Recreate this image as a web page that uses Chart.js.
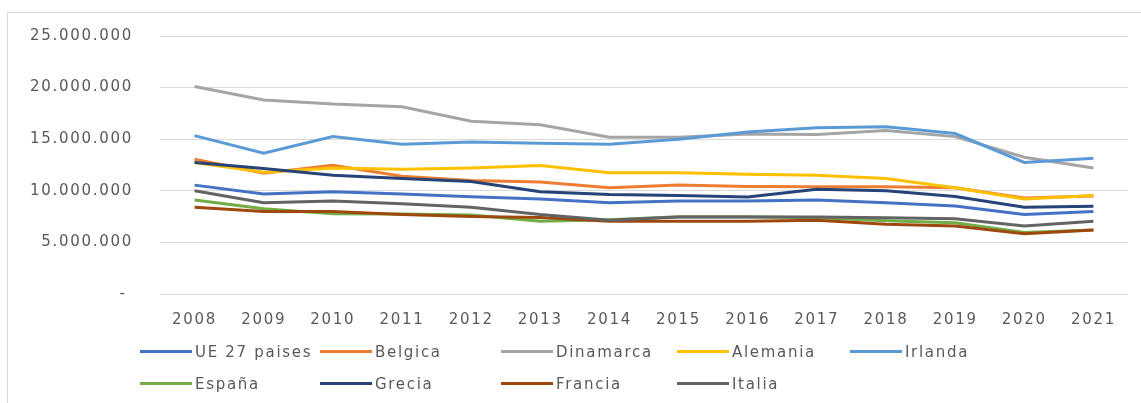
<!DOCTYPE html>
<html>
<head>
<meta charset="utf-8">
<script src="https://cdn.jsdelivr.net/npm/chart.js@4.4.1/dist/chart.umd.min.js"></script>
<style>
  html, body { margin: 0; padding: 0; background: #ffffff; }
  #wrap { position: relative; width: 1141px; height: 403px; overflow: hidden; }
  #frame { position: absolute; left: 7px; top: 12px; width: 1200px; height: 500px; border: 1px solid #d9d9d9; box-sizing: border-box; }
  canvas { position: absolute; left: 0; top: 0; }
  .lg { position: absolute; height: 20px; font-family: "DejaVu Sans", sans-serif; font-size: 15px; letter-spacing: 1.7px; color: #595959; white-space: nowrap; line-height: 20px; }
  .lg .sw { position: absolute; left: 0; top: 8px; width: 52px; height: 3px; }
  .lg .tx { position: absolute; left: 55px; top: 0; }
</style>
</head>
<body>
<div id="wrap">
  <div id="frame"></div>
  <canvas id="c" width="1141" height="403"></canvas>
  <div id="legend"></div>
</div>
<script>
const years = ['2008','2009','2010','2011','2012','2013','2014','2015','2016','2017','2018','2019','2020','2021'];
const yTicks = [0, 5000000, 10000000, 15000000, 20000000, 25000000];

const ue27      = [10550000, 9700000, 9900000, 9700000, 9420000, 9200000, 8850000, 9000000, 9000000, 9100000, 8850000, 8520000, 7700000, 8000000];
const belgica   = [13050000, 11700000, 12480000, 11400000, 11000000, 10850000, 10300000, 10550000, 10420000, 10400000, 10400000, 10300000, 9300000, 9500000];
const dinamarca = [20100000, 18800000, 18400000, 18150000, 16750000, 16400000, 15200000, 15200000, 15500000, 15450000, 15850000, 15250000, 13250000, 12200000];
const alemania  = [12750000, 11800000, 12200000, 12080000, 12200000, 12450000, 11750000, 11750000, 11600000, 11500000, 11200000, 10300000, 9200000, 9550000];
const irlanda   = [15350000, 13650000, 15250000, 14500000, 14720000, 14600000, 14500000, 15000000, 15700000, 16100000, 16200000, 15550000, 12750000, 13150000];
const espana    = [9100000, 8250000, 7780000, 7750000, 7650000, 7050000, 7200000, 7480000, 7480000, 7400000, 7100000, 6900000, 5950000, 6200000];
const grecia    = [12750000, 12150000, 11500000, 11200000, 10900000, 9900000, 9650000, 9550000, 9400000, 10150000, 10000000, 9450000, 8400000, 8500000];
const francia   = [8400000, 8000000, 8000000, 7700000, 7520000, 7420000, 7050000, 7050000, 7050000, 7150000, 6750000, 6600000, 5850000, 6200000];
const italia    = [10000000, 8850000, 9000000, 8750000, 8400000, 7700000, 7150000, 7450000, 7450000, 7450000, 7400000, 7300000, 6600000, 7050000];

const names  = ['UE 27 paises','Belgica','Dinamarca','Alemania','Irlanda','España','Grecia','Francia','Italia'];
const colors = ['#4472C4','#ED7D31','#A5A5A5','#FFC000','#5B9BD5','#70AD47','#264478','#9E480E','#636363'];
const series = [ue27, belgica, dinamarca, alemania, irlanda, espana, grecia, francia, italia];

// legend layout (left x of swatch, row center y)
const legendX = [140, 320, 501, 677, 850, 140, 320, 501, 677];
const legendY = [352, 352, 352, 352, 352, 384, 384, 384, 384];

function fmt(v) {
  if (v === 0) return '- ';
  return v.toString().replace(/\B(?=(\d{3})+(?!\d))/g, '.');
}

const spacingPlugin = {
  id: 'spacing',
  beforeDraw(chart) { chart.ctx.letterSpacing = '1.7px'; }
};

const ctx = document.getElementById('c').getContext('2d');
new Chart(ctx, {
  type: 'line',
  data: {
    labels: years,
    datasets: series.map((d, i) => ({
      label: names[i],
      data: d,
      borderColor: colors[i],
      backgroundColor: colors[i],
      borderWidth: 3,
      pointRadius: 0,
      tension: 0,
      fill: false,
      order: series.length - i
    }))
  },
  options: {
    responsive: false,
    animation: false,
    devicePixelRatio: 1,
    layout: { padding: { left: 0, top: 31, right: 13, bottom: 79 } },
    plugins: { legend: { display: false }, tooltip: { enabled: false } },
    scales: {
      x: {
        offset: true,
        grid: { display: false, drawTicks: false },
        border: { display: false },
        ticks: { color: '#595959', font: { family: 'DejaVu Sans', size: 15 }, padding: 17, maxRotation: 0, autoSkip: false },
        afterFit(s) { s.height = 30; }
      },
      y: {
        min: 0, max: 25000000,
        afterBuildTicks(s) { s.ticks = yTicks.map(v => ({ value: v })); },
        grid: { color: '#d9d9d9', lineWidth: 1, drawTicks: false },
        border: { display: false },
        ticks: { color: '#595959', font: { family: 'DejaVu Sans', size: 15 }, padding: 27, callback: v => fmt(v) },
        afterFit(s) { s.width = 160; }
      }
    }
  },
  plugins: [spacingPlugin]
});

const lg = document.getElementById('legend');
names.forEach((n, i) => {
  const d = document.createElement('div');
  d.className = 'lg';
  d.style.left = legendX[i] + 'px';
  d.style.top = (legendY[i] - 10) + 'px';
  d.innerHTML = '<span class="sw" style="background:' + colors[i] + '"></span><span class="tx"></span>';
  d.querySelector('.tx').textContent = n;
  lg.appendChild(d);
});
</script>
</body>
</html>
